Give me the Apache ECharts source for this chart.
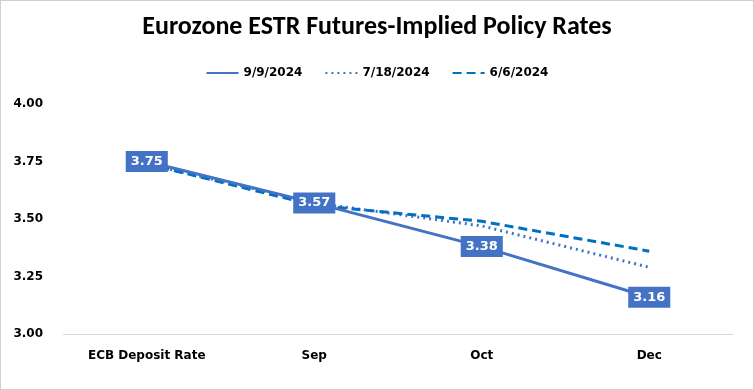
<!DOCTYPE html>
<html><head><meta charset="utf-8">
<script src="https://cdn.jsdelivr.net/npm/echarts@6/dist/echarts.min.js"></script>
<style>html,body{margin:0;padding:0;background:#fff}#c{width:752px;height:388px;border:1px solid #d0d0d0}</style>
</head><body><div id="c"></div>
<script>
var categories = ['ECB Deposit Rate','Sep','Oct','Dec'];
var s_0909 = [3.75, 3.57, 3.38, 3.16];
var s_0718 = [3.74, 3.57, 3.47, 3.29];
var s_0606 = [3.74, 3.56, 3.49, 3.36];
var seriesNames = ['9/9/2024','7/18/2024','6/6/2024'];
var yTicks = {min:3.0, max:4.0, interval:0.25};

var chart = echarts.init(document.getElementById('c'));
var tFont = 'Carlito, "Liberation Sans", Arial, sans-serif';
var font = '"DejaVu Sans", Verdana, sans-serif';
chart.setOption({
  animation:false,
  title:{text:'Eurozone ESTR Futures-Implied Policy Rates', left:'center', top:8,
    textStyle:{fontSize:26, fontWeight:'bold', color:'#000', fontFamily:tFont}},
  legend:{top:61, left:'center', itemWidth:32, itemHeight:10, itemGap:22,
    itemStyle:{opacity:0},
    textStyle:{fontSize:12, fontWeight:'bold', color:'#000', fontFamily:font},
    data:seriesNames},
  grid:{left:62, right:20, top:103, bottom:55},
  xAxis:{type:'category', data:categories, boundaryGap:true,
    axisLine:{lineStyle:{color:'#d9d9d9'}}, axisTick:{show:false},
    axisLabel:{fontSize:12, fontWeight:'bold', color:'#000', margin:16, fontFamily:font}},
  yAxis:{type:'value', min:yTicks.min, max:yTicks.max, interval:yTicks.interval,
    splitLine:{show:false}, axisLine:{show:false}, axisTick:{show:false},
    axisLabel:{fontSize:12, fontWeight:'bold', color:'#000', margin:20, fontFamily:font,
      formatter:function(v){return v.toFixed(2);}}},
  series:[
    {name:seriesNames[1], type:'line', data:s_0718, symbol:'none', z:2,
      lineStyle:{color:'#4472C4', width:3, type:[2,4]}, itemStyle:{color:'#4472C4'}},
    {name:seriesNames[2], type:'line', data:s_0606, symbol:'none', z:2,
      lineStyle:{color:'#0070C0', width:3, type:[9,5]}, itemStyle:{color:'#0070C0'}},
    {name:seriesNames[0], type:'line', data:s_0909, symbol:'circle', symbolSize:1, z:3,
      lineStyle:{color:'#4472C4', width:3}, itemStyle:{color:'#4472C4'},
      label:{show:true, position:'inside', backgroundColor:'#4472C4', color:'#fff',
        fontSize:13, fontWeight:'bold', padding:[4,5,4,5], fontFamily:font,
        formatter:function(p){return p.value.toFixed(2);}}}
  ]
});
</script></body></html>
